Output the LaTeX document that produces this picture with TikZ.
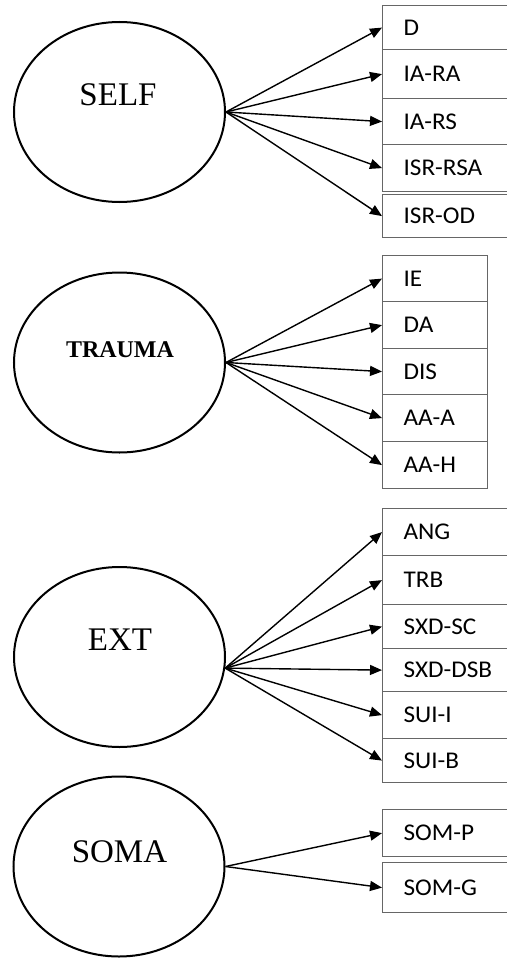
\documentclass[tikz,border=0pt]{standalone}
\usepackage{fontspec}
\setmainfont{Liberation Serif}
\newfontfamily\boxfont[FakeStretch=1.05]{Carlito}
\usetikzlibrary{shapes.geometric,arrows.meta}
\begin{document}
\begin{tikzpicture}[x=1pt,y=-1pt,
  latent/.style={ellipse,draw=black,line width=2pt,minimum width=211pt,minimum height=180pt,inner sep=0pt},
  lbl/.style={inner sep=0pt,font=\fontsize{33}{33}\selectfont},
  obs/.style={rectangle,draw=black!60,line width=1.2pt,anchor=north west,inner xsep=21pt,inner ysep=0pt,
    text width=88pt,align=left,font=\boxfont\fontsize{24}{24}\selectfont,
    text height=15.2pt,text depth=0pt},
  obsn/.style={obs,text width=63pt},
  link/.style={-{Triangle[length=12pt,width=10pt]},line width=1.4pt}]
\useasboundingbox (0,0) rectangle (506,958);

% latent variables
\node[latent] (self) at (119.5,112) {};
\node[lbl] (selfl) at (118,95) {SELF};
\node[latent] (trauma) at (119.5,362.5) {};
\node[lbl,font=\fontsize{24}{24}\selectfont\bfseries] (traumal) at (120,350) {TRAUMA};
\node[latent] (ext) at (119.5,657) {};
\node[lbl] (extl) at (120,640) {EXT};
\node[latent] (soma) at (119,866.5) {};
\node[lbl] (somal) at (119.5,852) {SOMA};

% SELF indicators
\node[obs,minimum height=44pt] (d) at (382,5) {D};
\node[obs,minimum height=49pt] (iara) at (382,49) {IA-RA};
\node[obs,minimum height=46pt] (iars) at (382,98) {IA-RS};
\node[obs,minimum height=47pt] (isrrsa) at (382,144) {ISR-RSA};
\node[obs,minimum height=43pt] (isrod) at (382,194) {ISR-OD};

% TRAUMA indicators
\node[obsn,minimum height=46pt] (ie) at (382,255) {IE};
\node[obsn,minimum height=47pt] (da) at (382,301) {DA};
\node[obsn,minimum height=46pt] (dis) at (382,348) {DIS};
\node[obsn,minimum height=47pt] (aaa) at (382,394) {AA-A};
\node[obsn,minimum height=47pt] (aah) at (382,441) {AA-H};

% EXT indicators
\node[obs,minimum height=47pt] (ang) at (382,508) {ANG};
\node[obs,minimum height=49pt] (trb) at (382,555) {TRB};
\node[obs,minimum height=44pt] (sxdsc) at (382,604) {SXD-SC};
\node[obs,minimum height=43pt] (sxddsb) at (382,648) {\mbox{SXD-DSB}};
\node[obs,minimum height=47pt] (suii) at (382,691) {SUI-I};
\node[obs,minimum height=44pt] (suib) at (382,738) {SUI-B};

% SOMA indicators
\node[obs,minimum height=47pt] (somp) at (382,809) {SOM-P};
\node[obs,minimum height=50pt] (somg) at (382,862) {SOM-G};

% paths
\foreach \t in {d,iara,iars,isrrsa,isrod} \draw[link] (self.east) -- (\t.west);
\foreach \t in {ie,da,dis,aaa,aah} \draw[link] (trauma.east) -- (\t.west);
\foreach \t in {ang,trb,sxdsc,sxddsb,suii,suib} \draw[link] (ext.-6) -- (\t.west);
\foreach \t in {somp,somg} \draw[link] (soma.east) -- (\t.west);
\end{tikzpicture}
\end{document}
